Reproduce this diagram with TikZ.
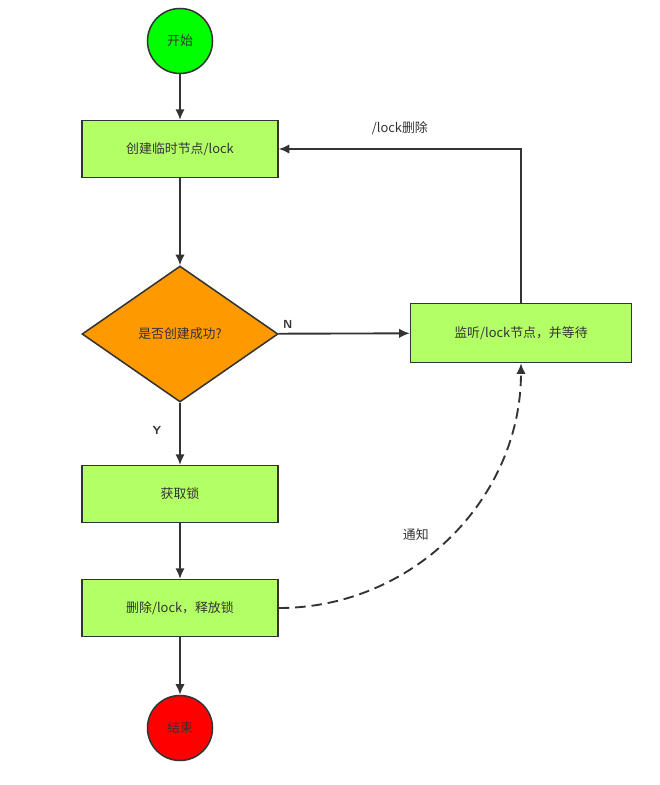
\documentclass[tikz,border=0pt]{standalone}
\usepackage{fontspec}
\newfontfamily\cjk{Noto Sans CJK SC}
\usetikzlibrary{arrows.meta}
\usetikzlibrary{positioning}
\usetikzlibrary{shapes.geometric}
\definecolor{lime}{HTML}{B3FF66}
\definecolor{edge}{HTML}{333333}
\begin{document}
\begin{tikzpicture}[x=0.03cm, y=-0.03cm,
					font=\cjk\fontsize{11}{13}\selectfont, text=edge,
					arrow/.style={line width=1.6pt, draw=edge, -{Latex[length=9pt,width=8pt]}},
					box/.style={draw=edge, line width=1.3pt, fill=lime, minimum width=5.88cm, minimum height=1.7cm},
					disc/.style={circle, draw=edge, line width=1.3pt, minimum size=1.95cm},
				]
			        \useasboundingbox (0,0) rectangle (659,785);
			        
			        \node[disc, fill=green] (start) at (180,41) {开始};
			        \node[box] (create) at (180,149) {创建临时节点/lock};
			        \node[diamond, draw=edge, line width=1.3pt, fill=orange!80!yellow, minimum width=5.88cm, minimum height=4.08cm, aspect=1.44, inner sep=0pt] (check) at (180,334) {是否创建成功?};
			        \node[box, minimum width=6.63cm, minimum height=1.77cm] (watch) at (521,333) {监听/lock节点，并等待};
			        \node[box] (get) at (180,494) {获取锁};
			        \node[box] (release) at (180,608) {删除/lock，释放锁};
			        \node[disc, fill=red] (stop) at (180,728) {结束};

			        \draw[arrow] (start) -- (create);
			        \draw[arrow] (create) -- (check);
			        \draw[arrow] (check) -- node[pos=0, above right, font=\sffamily\bfseries] {N} (watch);
			        \draw[arrow] (check) -- node[pos=0.45, left=12pt, font=\sffamily\bfseries] {Y} (get);
			        \draw[arrow] (get) -- (release);
			        \draw[arrow] (release) -- (stop);
			        \draw[arrow] (watch.north) |- node[pos=0.75, above=8pt] {/lock删除} (create.east);
			        \draw[arrow, dashed, dash pattern=on 9pt off 5pt] (release.east) to[out=0, in=-90] node[pos=0.45, above left=4pt] {通知} (watch.south);
			    \end{tikzpicture}
\end{document}
